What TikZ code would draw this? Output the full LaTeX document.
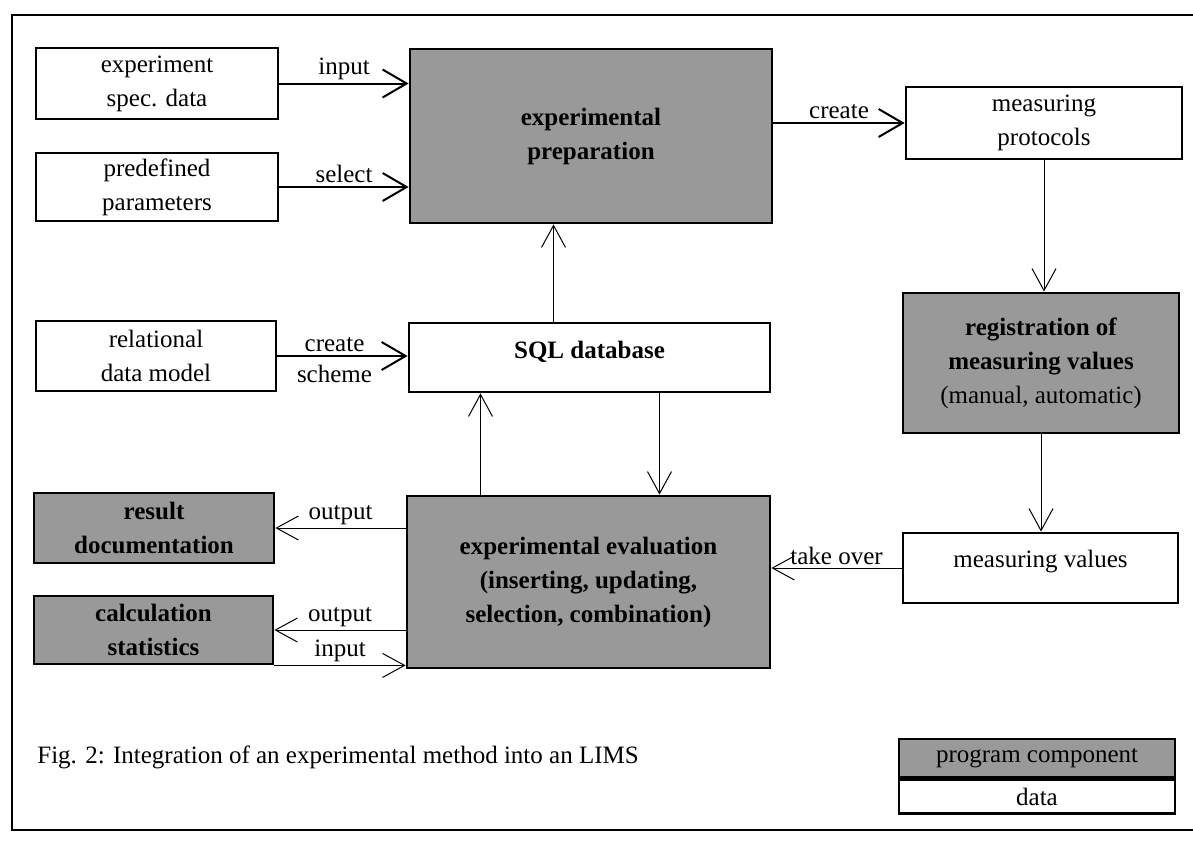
\documentclass[tikz,border=0pt]{standalone}
\usepackage{fontspec}
\setmainfont{Liberation Serif}
\usepackage{tikz}
\usetikzlibrary{arrows.meta}
\definecolor{dither}{gray}{0.6}
\tikzstyle{data} = [draw, line width=1.4pt, fill=white, align=center, inner sep=0pt]
\tikzstyle{prog} = [data, fill=dither, font=\bfseries]
\tikzstyle{flow} = [line width=1pt, -{Straight Barb[length=12pt,width=14pt]}]
\tikzstyle{thinflow} = [line width=0.5pt, -{Straight Barb[length=11pt,width=12pt]}]
\tikzstyle{lbl} = [inner sep=1.5pt]

\begin{document}
\fontsize{12.5}{17}\selectfont
\begin{tikzpicture}[x=0.5pt,y=-0.5pt]
\useasboundingbox (0,0) rectangle (1193,841);

%frame, open at the right side
\draw[line width=1.2pt] (1193,15) -- (12,15) -- (12,830) -- (1193,830);

%left column
\node[data, minimum width=121pt, minimum height=35.5pt] (expspec) at (157,83.5) {experiment\\spec. data};
\node[data, minimum width=121pt, minimum height=34pt] (predef) at (157,187) {predefined\\parameters};
\node[data, minimum width=120pt, minimum height=35pt] (reldm) at (156,356) {relational\\data model};
\node[prog, minimum width=120pt, minimum height=35pt] (resdoc) at (154,528) {result\\documentation};
\node[prog, minimum width=119.5pt, minimum height=34pt] (calc) at (153.5,630) {calculation\\statistics};

%middle column
\node[prog, minimum width=181pt, minimum height=87pt] (prep) at (591,136) {experimental\\preparation};
\node[data, font=\bfseries, text depth=8pt, minimum width=180.5pt, minimum height=34.5pt] (sqldb) at (589.5,357.5) {SQL database};
\node[prog, minimum width=181.5pt, minimum height=86pt] (evalu) at (588.5,582) {experimental evaluation\\(inserting, updating,\\selection, combination)};

%right column
\node[data, minimum width=138pt, minimum height=36pt] (protocols) at (1044,123) {measuring\\protocols};
\node[prog, minimum width=138pt, minimum height=70pt] (regist) at (1041,363) {registration of\\measuring values\\\mdseries(manual, automatic)};
\node[data, text depth=9pt, minimum width=137.5pt, minimum height=35pt] (values) at (1040.5,568) {measuring values};

%legend
\node[prog, font=\mdseries, minimum width=138pt, minimum height=19pt] (legprog) at (1037,758) {program component};
\node[data, anchor=north, minimum width=138pt, minimum height=17pt] (legdata) at (legprog.south) {data};

\node[anchor=west, inner sep=0pt] (caption) at (37,757) {Fig. 2: Integration of an experimental method into an LIMS};

%connections
\draw[flow] (expspec.east) -- (expspec.east -| prep.west) node[lbl, midway, above] {input};
\draw[flow] (predef.east) -- (predef.east -| prep.west) node[lbl, midway, above] {select};
\draw[flow] (prep.east |- protocols.west) -- (protocols.west) node[lbl, midway, above] {create};
\draw[flow] (reldm.east) -- (reldm.east -| sqldb.west) node[lbl, midway, above, xshift=-4pt] {create} node[lbl, midway, below, inner sep=4pt, xshift=-4pt] {scheme};
\draw[thinflow] (protocols.south) -- (protocols.south |- regist.north);
\draw[thinflow] (regist.south) -- (regist.south |- values.north);
\draw[thinflow] (values.west) -- (values.west -| evalu.east) node[lbl, midway, above] {take over};
\draw[thinflow] ([xshift=-18pt]sqldb.north) -- ([xshift=-18pt]sqldb.north |- prep.south);
\draw[thinflow] ([xshift=-54pt]evalu.north) -- ([xshift=-54pt]evalu.north |- sqldb.south);
\draw[thinflow] ([xshift=35pt]sqldb.south) -- ([xshift=35pt]sqldb.south |- evalu.north);
\draw[thinflow] (evalu.west |- resdoc.east) -- (resdoc.east) node[lbl, midway, above] {output};
\draw[thinflow] (evalu.west |- calc.east) -- (calc.east) node[lbl, midway, above] {output};
\draw[thinflow] (calc.south east) -- (calc.south east -| evalu.west) node[lbl, midway, above] {input};

\end{tikzpicture}
\end{document}
